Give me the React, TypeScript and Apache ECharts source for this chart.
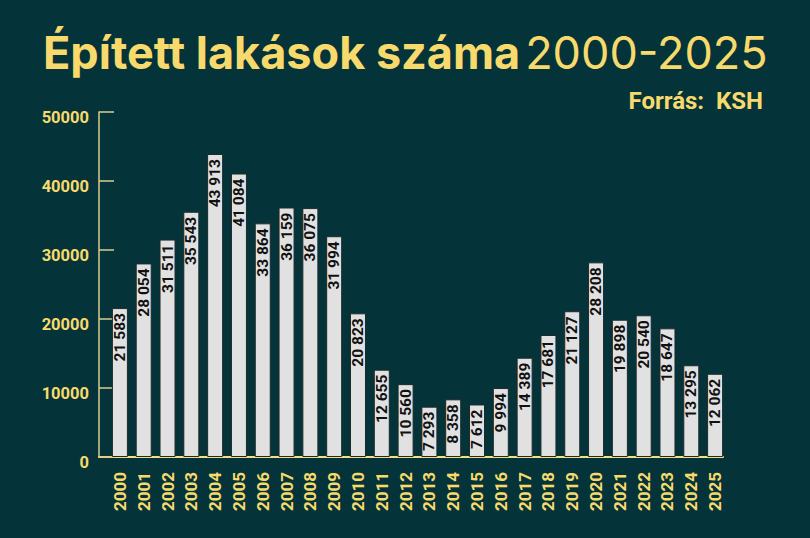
import React, { useEffect, useRef } from 'react';
import * as echarts from 'echarts';

const years = [
  '2000', '2001', '2002', '2003', '2004', '2005', '2006', '2007', '2008', '2009',
  '2010', '2011', '2012', '2013', '2014', '2015', '2016', '2017', '2018', '2019',
  '2020', '2021', '2022', '2023', '2024', '2025',
];

const dwellings = [
  21583, 28054, 31511, 35543, 43913, 41084, 33864, 36159, 36075, 31994,
  20823, 12655, 10560, 7293, 8358, 7612, 9994, 14389, 17681, 21127,
  28208, 19898, 20540, 18647, 13295, 12062,
];

const yTicks = [0, 10000, 20000, 30000, 40000, 50000];

const BG = '#04343a';
const YELLOW = '#f8da6c';
const FONT = 'Roboto, "Liberation Sans", sans-serif';
const TITLE_FONT = 'Inter, Roboto, sans-serif';

// ezres tagolás szóközzel
const fmt = (v: number) => String(v).replace(/\B(?=(\d{3})+(?!\d))/g, ' ');

const App: React.FC = () => {
  const chartRef = useRef<HTMLDivElement>(null);

  useEffect(() => {
    document.body.style.margin = '0';
    if (!chartRef.current) return;
    const chart = echarts.init(chartRef.current, undefined, { renderer: 'svg' });

    const option = {
      animation: false,
      backgroundColor: BG,
      title: [
        {
          text: '{b|Épített lakások száma} {r|2000-2025}',
          left: 38,
          top: 25,
          textStyle: {
            rich: {
              b: { fontFamily: TITLE_FONT, fontWeight: 'bold', fontSize: 45, color: YELLOW },
              r: { fontFamily: TITLE_FONT, fontWeight: 'normal', fontSize: 45, color: YELLOW },
            },
          },
        },
        {
          text: 'Forrás:  KSH',
          right: 42,
          top: 84,
          textStyle: { fontFamily: FONT, fontWeight: 'bold', fontSize: 24, color: YELLOW },
        },
      ],
      grid: [
        { left: 108, right: 83, top: 112, bottom: 81 },
        { left: 99, right: 87, top: 112, bottom: 81 },
      ],
      xAxis: [
        {
          type: 'category',
          gridIndex: 0,
          data: years,
          axisLine: { show: false },
          axisTick: { show: false },
          axisLabel: {
            rotate: 90,
            margin: 15,
            color: YELLOW,
            fontFamily: FONT,
            fontWeight: 'bold',
            fontSize: 17,
          },
        },
        {
          type: 'value',
          gridIndex: 1,
          min: 0,
          max: 1,
          axisLine: { show: true, lineStyle: { color: '#f3e27c', width: 2 } },
          axisTick: { show: false },
          axisLabel: { show: false },
          splitLine: { show: false },
        },
      ],
      yAxis: [
        {
          type: 'value',
          gridIndex: 0,
          min: 0,
          max: 50000,
          show: false,
          splitLine: { show: false },
        },
        {
          type: 'value',
          gridIndex: 1,
          min: 0,
          max: 50000,
          interval: 10000,
          axisLine: { show: true, lineStyle: { color: '#d9cc8c', width: 1.5 } },
          axisTick: { show: true, inside: true, length: 15, lineStyle: { color: '#d9cc8c', width: 1.5 } },
          splitLine: { show: false },
          axisLabel: {
            margin: 10,
            verticalAlign: 'top',
            lineHeight: 10,
            color: YELLOW,
            fontFamily: FONT,
            fontWeight: 'bold',
            fontSize: 16.5,
            formatter: (v: number) => (yTicks.includes(v) ? String(v) : ''),
          },
        },
      ],
      series: [
        {
          type: 'bar',
          xAxisIndex: 0,
          yAxisIndex: 0,
          data: dwellings,
          barWidth: 16,
          itemStyle: { color: '#e1e1e1', borderColor: '#1e2a2a', borderWidth: 1 },
          label: {
            show: true,
            position: 'insideTop',
            rotate: 90,
            align: 'right',
            verticalAlign: 'middle',
            distance: 5,
            color: '#111',
            fontFamily: FONT,
            fontWeight: 'bold',
            fontSize: 15.5,
            formatter: (p: any) => fmt(p.value),
          },
        },
      ],
    };

    chart.setOption(option);
    return () => {
      chart.dispose();
    };
  }, []);

  return <div ref={chartRef} style={{ width: 810, height: 538 }} />;
};

export default App;
